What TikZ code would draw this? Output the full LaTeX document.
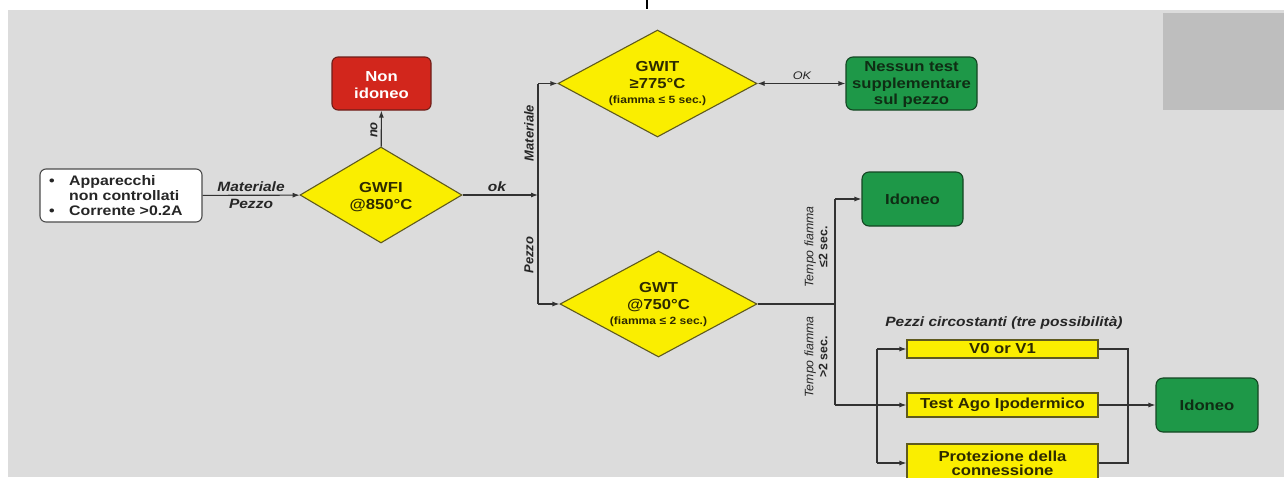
\documentclass[tikz,border=0pt]{standalone}
\usepackage{fontspec}
\setmainfont{Liberation Sans}[FakeStretch=1.15]
\newfontfamily\rotfont{Liberation Sans}
\usetikzlibrary{shapes.geometric,arrows.meta}
\definecolor{bgc}{RGB}{220,220,220}
\definecolor{boxgray}{RGB}{190,190,190}
\definecolor{ylw}{RGB}{250,238,0}
\definecolor{ylwline}{RGB}{95,90,30}
\definecolor{redf}{RGB}{210,38,28}
\definecolor{redline}{RGB}{110,30,25}
\definecolor{grnf}{RGB}{30,152,72}
\definecolor{grnline}{RGB}{20,70,35}
\definecolor{grntext}{RGB}{15,45,20}
\definecolor{ylwtext}{RGB}{45,42,0}
\definecolor{linec}{RGB}{50,50,50}
\tikzset{
  conn/.style={draw=linec, line width=1.1pt},
  arr/.style={conn, -{Latex[length=7pt,width=5pt]}},
  darr/.style={conn, {Latex[length=7pt,width=5pt]}-{Latex[length=7pt,width=5pt]}},
  boxfont/.style={font=\fontsize{14.5}{16.5}\selectfont\bfseries},
  lab/.style={font=\fontsize{13.5}{15}\selectfont\bfseries\itshape, text=black!85, inner sep=0pt},
  rlab/.style={font=\rotfont\fontsize{13}{15}\selectfont\bfseries\itshape, text=black!85, inner sep=0pt, rotate=90},
  tlab/.style={font=\rotfont\fontsize{12.3}{14}\selectfont, text=black!85, inner sep=0pt, rotate=90, align=center},
  startbox/.style={draw=black!70, fill=white, rounded corners=6pt, line width=1.1pt, minimum width=162pt, minimum height=53pt, inner sep=0pt},
  redbox/.style={draw=redline, fill=redf, rounded corners=6pt, line width=1.1pt, inner sep=0pt, boxfont, text=white, align=center},
  grnbox/.style={draw=grnline, fill=grnf, rounded corners=7pt, line width=1.1pt, inner sep=0pt, boxfont, text=grntext, align=center},
  ylwbox/.style={draw=ylwline, fill=ylw, line width=1.1pt, inner sep=0pt, boxfont, text=ylwtext, align=center},
  dia/.style={diamond, draw=ylwline, fill=ylw, line width=1.1pt, inner sep=0pt},
  diatext/.style={font=\fontsize{14.5}{16.5}\selectfont\bfseries, text=ylwtext, align=center, inner sep=0pt}
}
\begin{document}
\begin{tikzpicture}[x=1pt,y=-1pt]
\useasboundingbox (0,0) rectangle (1284,477);
\fill[white] (0,0) rectangle (1284,477);
\fill[bgc] (8,10) rectangle (1284,477);
\fill[boxgray] (1163,13) rectangle (1284,110);
\draw[black, line width=2pt] (647,0) -- (647,9);

% nodes
\node[startbox] (start) at (121,195.5) {};
\node[anchor=west, inner sep=0pt, align=left, font=\fontsize{13.8}{15}\selectfont\bfseries, text=black!85] (starttxt) at (49,196)
  {\makebox[20pt][l]{•}Apparecchi\\\hspace*{20pt}non controllati\\\makebox[20pt][l]{•}Corrente >0.2A};

\node[dia, minimum width=162pt, minimum height=96pt] (gwfi) at (381,195) {};
\node[diatext] (gwfit) at (381,197) {GWFI\\@850°C};

\node[redbox, minimum width=99pt, minimum height=53pt] (nonid) at (381.5,83.5) {};
\node[inner sep=0pt, boxfont, text=white, align=center] (nonidt) at (381.5,85) {Non\\idoneo};

\node[dia, minimum width=199pt, minimum height=107pt] (gwit) at (657.5,83.5) {};
\node[diatext] (gwitt) at (657.5,84) {GWIT\\≥775°C\\[-1pt]{\fontsize{10.5}{12}\selectfont(fiamma ≤ 5 sec.)}};

\node[grnbox, minimum width=131pt, minimum height=53pt] (nessun) at (911.5,83.5) {};
\node[inner sep=0pt, boxfont, text=grntext, align=center] (nessunt) at (911.5,85) {Nessun test\\supplementare\\sul pezzo};

\node[dia, minimum width=197pt, minimum height=106pt] (gwt) at (658.5,304) {};
\node[diatext] (gwtt) at (658.5,305) {GWT\\@750°C\\[-1pt]{\fontsize{10.5}{12}\selectfont(fiamma ≤ 2 sec.)}};

\node[grnbox, minimum width=101pt, minimum height=54pt] (ido1) at (912.5,199) {Idoneo};

\node[ylwbox, minimum width=191pt, minimum height=18pt] (v0) at (1002.5,349) {V0 or V1};
\node[ylwbox, minimum width=191pt, minimum height=24pt] (test) at (1002.5,405) {Test Ago Ipodermico};
\node[ylwbox, minimum width=191pt, minimum height=38pt, font=\fontsize{14.5}{14}\selectfont\bfseries] (prot) at (1002.5,463) {Protezione della\\connessione};

\node[grnbox, minimum width=102pt, minimum height=54pt] (ido2) at (1207,405) {Idoneo};

% junction coordinates
\coordinate (j1) at (538,195);
\coordinate (j1t) at (538,83.5);
\coordinate (j1b) at (538,304);
\coordinate (j2) at (835,304);
\coordinate (j2t) at (835,199);
\coordinate (j2b) at (835,405);
\coordinate (lbt) at (877,349);
\coordinate (lbb) at (877,463);
\coordinate (rbt) at (1128,349);
\coordinate (rbb) at (1128,463);

% connectors
\draw[arr] (start) -- (gwfi);
\node[lab] (lmat) at (251,187) {Materiale};
\node[lab] (lpez) at (251,204) {Pezzo};

\draw[arr] (gwfi) -- (nonid);
\node[rlab] (lno) at (374,130) {no};

\draw[arr] (gwfi) -- (j1);
\node[lab] (lok) at (497,187) {ok};

\draw[conn] (j1t) -- (j1b);
\draw[arr] (j1t) -- (gwit);
\draw[arr] (j1b) -- (gwt);
\node[rlab] (lmat2) at (529,133) {Materiale};
\node[rlab] (lpez2) at (529,255) {Pezzo};

\draw[darr] (gwit) -- (nessun);
\node[lab, font=\fontsize{11}{13}\selectfont\itshape] (lOK) at (802,76) {OK};

\draw[conn] (gwt) -- (j2);
\draw[conn] (j2t) -- (j2b);
\draw[arr] (j2t) -- (ido1);
\draw[arr] (j2b) -- (test);
\node[tlab] (lt1) at (816,247) {\itshape Tempo fiamma\\\bfseries ≤2 sec.};
\node[tlab] (lt2) at (816,357) {\itshape Tempo fiamma\\\bfseries >2 sec.};

\node[lab] (lpc) at (1004,323) {Pezzi circostanti (tre possibilità)};

\draw[conn] (lbt) -- (lbb);
\draw[arr] (lbt) -- (v0);
\draw[arr] (lbb) -- (prot);
\draw[conn] (v0) -- (rbt) -- (rbb) -- (prot);
\draw[arr] (test) -- (ido2);
\end{tikzpicture}
\end{document}
